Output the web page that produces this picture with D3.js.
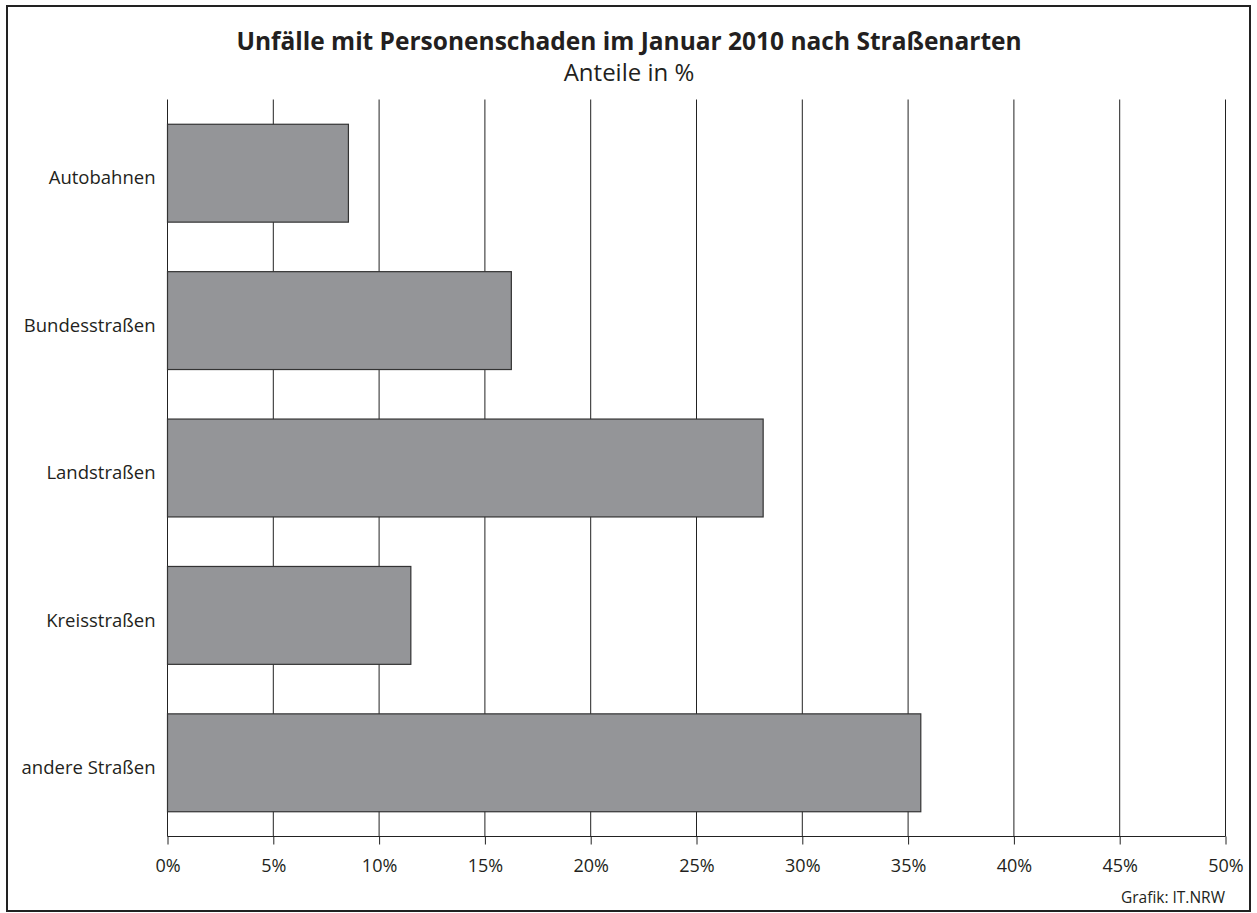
<!DOCTYPE html>
<html>
<head>
<meta charset="utf-8">
<script src="https://cdn.jsdelivr.net/npm/d3@7"></script>
<style>
  body { margin: 0; background: #fff; }
  text { font-family: "Open Sans", sans-serif; fill: #231f20; }
</style>
</head>
<body>
<svg width="1257" height="913"></svg>
<script>
const categories = ['Autobahnen', 'Bundesstraßen', 'Landstraßen', 'Kreisstraßen', 'andere Straßen'];
const shares = [8.55, 16.25, 28.15, 11.5, 35.6];
const ticks = [0, 5, 10, 15, 20, 25, 30, 35, 40, 45, 50];

const svg = d3.select('svg');
const width = +svg.attr('width');
const height = +svg.attr('height');

// frame
svg.append('rect')
    .attr('x', 7).attr('y', 6)
    .attr('width', 1243).attr('height', 905)
    .attr('fill', 'none')
    .attr('stroke', '#222')
    .attr('stroke-width', 2);

const margin = { top: 99.5, left: 167.5, right: width - 1225.5, bottom: height - 836.5 };

const x = d3.scaleLinear()
    .domain([0, 50])
    .range([margin.left, width - margin.right]);

const y = d3.scaleBand()
    .domain(categories)
    .range([margin.top, height - margin.bottom])
    .paddingInner(0.336)
    .paddingOuter(0.168);

// gridlines
svg.append('g')
    .selectAll('line')
    .data(ticks)
    .join('line')
    .attr('x1', d => x(d)).attr('x2', d => x(d))
    .attr('y1', margin.top).attr('y2', height - margin.bottom)
    .attr('stroke', '#222')
    .attr('stroke-width', 1);

// bars
svg.append('g')
    .selectAll('rect')
    .data(shares)
    .join('rect')
    .attr('x', x(0))
    .attr('y', (d, i) => y(categories[i]))
    .attr('width', d => x(d) - x(0))
    .attr('height', y.bandwidth())
    .attr('fill', '#949598')
    .attr('stroke', '#333')
    .attr('stroke-width', 1.2);

// x axis
const xAxis = svg.append('g')
    .attr('transform', `translate(0, ${height - margin.bottom})`)
    .call(d3.axisBottom(x).tickValues(ticks).tickSize(8).tickPadding(15).tickFormat(d => d + '%'));
xAxis.select('.domain').attr('stroke', '#222').attr('d', `M${x(0)},0H${x(50)}`);
xAxis.selectAll('.tick line').attr('stroke', '#222');
xAxis.selectAll('text').style('font-family', '"Open Sans", sans-serif').style('font-size', '18px').attr('fill', '#231f20');

// y labels
const yAxis = svg.append('g')
    .attr('transform', `translate(${margin.left}, 0)`)
    .call(d3.axisLeft(y).tickSize(0).tickPadding(12));
yAxis.select('.domain').remove();
yAxis.selectAll('text')
    .style('font-family', '"Open Sans", sans-serif')
    .style('font-size', '18.5px')
    .attr('dy', '0.6em')
    .attr('fill', '#231f20');

// titles
svg.append('text')
    .attr('x', 629).attr('y', 50)
    .attr('text-anchor', 'middle')
    .style('font-size', '24.5px')
    .style('font-weight', 'bold')
    .text('Unfälle mit Personenschaden im Januar 2010 nach Straßenarten');

svg.append('text')
    .attr('x', 629).attr('y', 81)
    .attr('text-anchor', 'middle')
    .style('font-size', '24px')
    .text('Anteile in %');

svg.append('text')
    .attr('x', 1225).attr('y', 903)
    .attr('text-anchor', 'end')
    .style('font-size', '15.5px')
    .text('Grafik: IT.NRW');
</script>
</body>
</html>
